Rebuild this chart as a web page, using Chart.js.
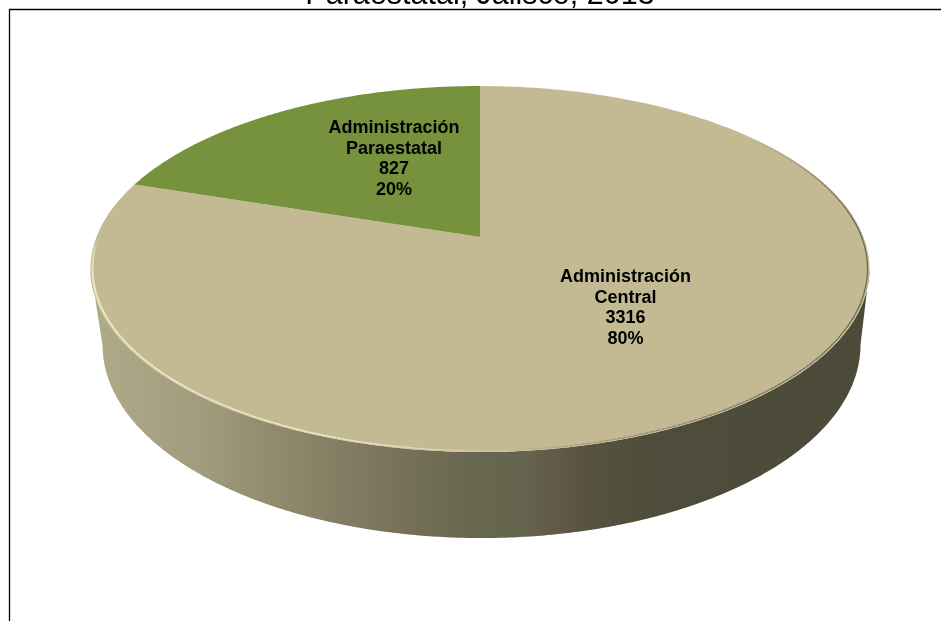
<!DOCTYPE html>
<html lang="es"><head><meta charset="utf-8">
<style>html,body{margin:0;padding:0;background:#fff;overflow:hidden}#w{position:relative;width:941px;height:621px}canvas{display:block}</style>
<script src="https://cdn.jsdelivr.net/npm/chart.js@4"></script></head>
<body><div id="w"><canvas id="c" width="941" height="621"></canvas></div>
<script>
const categories = ['Administración Central', 'Administración Paraestatal'];
const labelLines = [['Administración', 'Central'], ['Administración', 'Paraestatal']];
const seriesValues = [3316, 827];
const percentText = ['80%', '20%'];
const sliceColors = ['#c3ba94', '#76923c'];
const titleText = 'Paraestatal, Jalisco, 2013';

// perspective of the disc, relative to the library's outer radius
const K = 0.175, AX = 383.5 / 200, BY = 177.4 / 200;
function project(el, a, r, o) {
  o = o || {};
  const sx = o.sx || 1, sy = o.sy || 1, dx = o.dx || 0, dy = o.dy || 0;
  const u = Math.cos(a) * r, v = Math.sin(a) * r, d = 1 - K * v;
  return [el.x + dx + sx * AX * el.outerRadius * u / d,
          el.y + dy + sy * BY * el.outerRadius * v / d];
}
class PerspectiveArc extends Chart.ArcElement {
  static id = 'perspectiveArc';
  draw(ctx) {
    const s = this.startAngle, e = this.endAngle, n = 240;
    ctx.save();
    ctx.beginPath();
    ctx.moveTo(this.x, this.y);
    for (let i = 0; i <= n; i++) {
      const p = project(this, s + (e - s) * i / n, 1);
      ctx.lineTo(p[0], p[1]);
    }
    ctx.closePath();
    ctx.fillStyle = this.options.backgroundColor;
    ctx.fill();
    ctx.restore();
  }
}
class PerspectivePie extends Chart.PieController {
  static id = 'perspectivePie';
  static defaults = { dataElementType: 'perspectiveArc' };
}
Chart.register(PerspectiveArc, PerspectivePie);

function strokeRim(ctx, el, a0, a1, steps, style) {
  for (let i = 0; i < steps; i++) {
    const t0 = i / steps, t1 = (i + 1) / steps;
    const p = project(el, a0 + (a1 - a0) * t0, 0.995), q = project(el, a0 + (a1 - a0) * t1, 0.995);
    const s = style((t0 + t1) / 2);
    ctx.beginPath(); ctx.moveTo(p[0], p[1]); ctx.lineTo(q[0], q[1]);
    ctx.strokeStyle = s[0]; ctx.lineWidth = s[1]; ctx.stroke();
  }
}

const wallPlugin = {
  id: 'wall',
  beforeDatasetsDraw(chart) {
    const ctx = chart.ctx, el = chart.getDatasetMeta(0).data[0];
    const base = { sx: 0.973, sy: 1.055, dx: 1.5, dy: 74.2 }, N = 360;
    const g = ctx.createLinearGradient(91, 0, 870, 0);
    [[0,'#aeaa8a'],[0.14,'#a29c7c'],[0.27,'#8b8569'],[0.40,'#767159'],[0.487,'#68674f'],[0.56,'#64644e'],
     [0.585,'#645c4a'],[0.64,'#56523e'],[0.72,'#4e4c3a'],[1,'#4c4a39']].forEach(s => g.addColorStop(s[0], s[1]));
    const aMax = Math.asin(K);           // silhouette angle on each side
    ctx.save();
    ctx.beginPath();
    let p = project(el, aMax, 1); ctx.moveTo(p[0], p[1]);
    for (let i = 0; i <= N; i++) {
      p = project(el, aMax + (Math.PI - 2 * aMax) * i / N, 1, base);
      ctx.lineTo(p[0], p[1]);
    }
    p = project(el, Math.PI - aMax, 1); ctx.lineTo(p[0], p[1]);
    for (let i = 0; i <= N; i++) {
      p = project(el, Math.PI - aMax - (Math.PI - 2 * aMax) * i / N, 1);
      ctx.lineTo(p[0], p[1]);
    }
    ctx.closePath();
    ctx.fillStyle = g;
    ctx.fill();
    ctx.restore();
  },
  afterDatasetsDraw(chart) {
    const ctx = chart.ctx, el = chart.getDatasetMeta(0).data[0];
    ctx.save();
    ctx.lineCap = 'round';
    // shaded edge, back right round to the front
    strokeRim(ctx, el, -0.65, Math.PI / 2 - 0.05, 160, t =>
      ['rgba(90,86,68,' + (0.75 * Math.min(1, t * 4) * (1 - Math.pow(t, 4))).toFixed(3) + ')', 1.2]);
    // lit edge, left side to the front
    strokeRim(ctx, el, Math.PI, Math.PI / 2 - 0.12, 160, t =>
      ['rgba(236,230,192,' + (Math.min(1, t * 8) * (t < 0.75 ? 1 : (1 - t) / 0.25)).toFixed(3) + ')', 2 - 0.8 * t]);
    // labels
    ctx.fillStyle = '#000'; ctx.textAlign = 'center'; ctx.textBaseline = 'middle';
    ctx.font = 'bold 18px "Liberation Sans", Arial, sans-serif';
    const anchors = [[625.5, 277, 20.6], [394, 128, 20.6]];
    seriesValues.forEach((v, i) => {
      const t = labelLines[i].concat([String(v), percentText[i]]);
      t.forEach((s, j) => ctx.fillText(s, anchors[i][0], anchors[i][1] + j * anchors[i][2]));
    });
    ctx.restore();
  },
  afterDraw(chart) {
    const ctx = chart.ctx;
    ctx.save();
    ctx.strokeStyle = '#000'; ctx.lineWidth = 1.3;
    ctx.beginPath(); ctx.moveTo(9.5, 621); ctx.lineTo(9.5, 9.5); ctx.lineTo(941, 9.5); ctx.stroke();
    ctx.restore();
  }
};

new Chart(document.getElementById('c'), {
  type: 'perspectivePie',
  data: { labels: categories, datasets: [{ data: seriesValues, backgroundColor: sliceColors, borderWidth: 0 }] },
  options: {
    responsive: false, animation: false, events: [],
    layout: { padding: { top: 37, bottom: 184, left: 19, right: 0 } },
    plugins: {
      legend: { display: false }, tooltip: { enabled: false },
      title: { display: true, text: titleText, color: '#000', position: 'top',
               font: { family: '"Liberation Sans", Arial, sans-serif', size: 30.5, weight: 'normal' },
               padding: { top: -60, bottom: 1.4 } }
    }
  },
  plugins: [wallPlugin]
});
</script></body></html>
